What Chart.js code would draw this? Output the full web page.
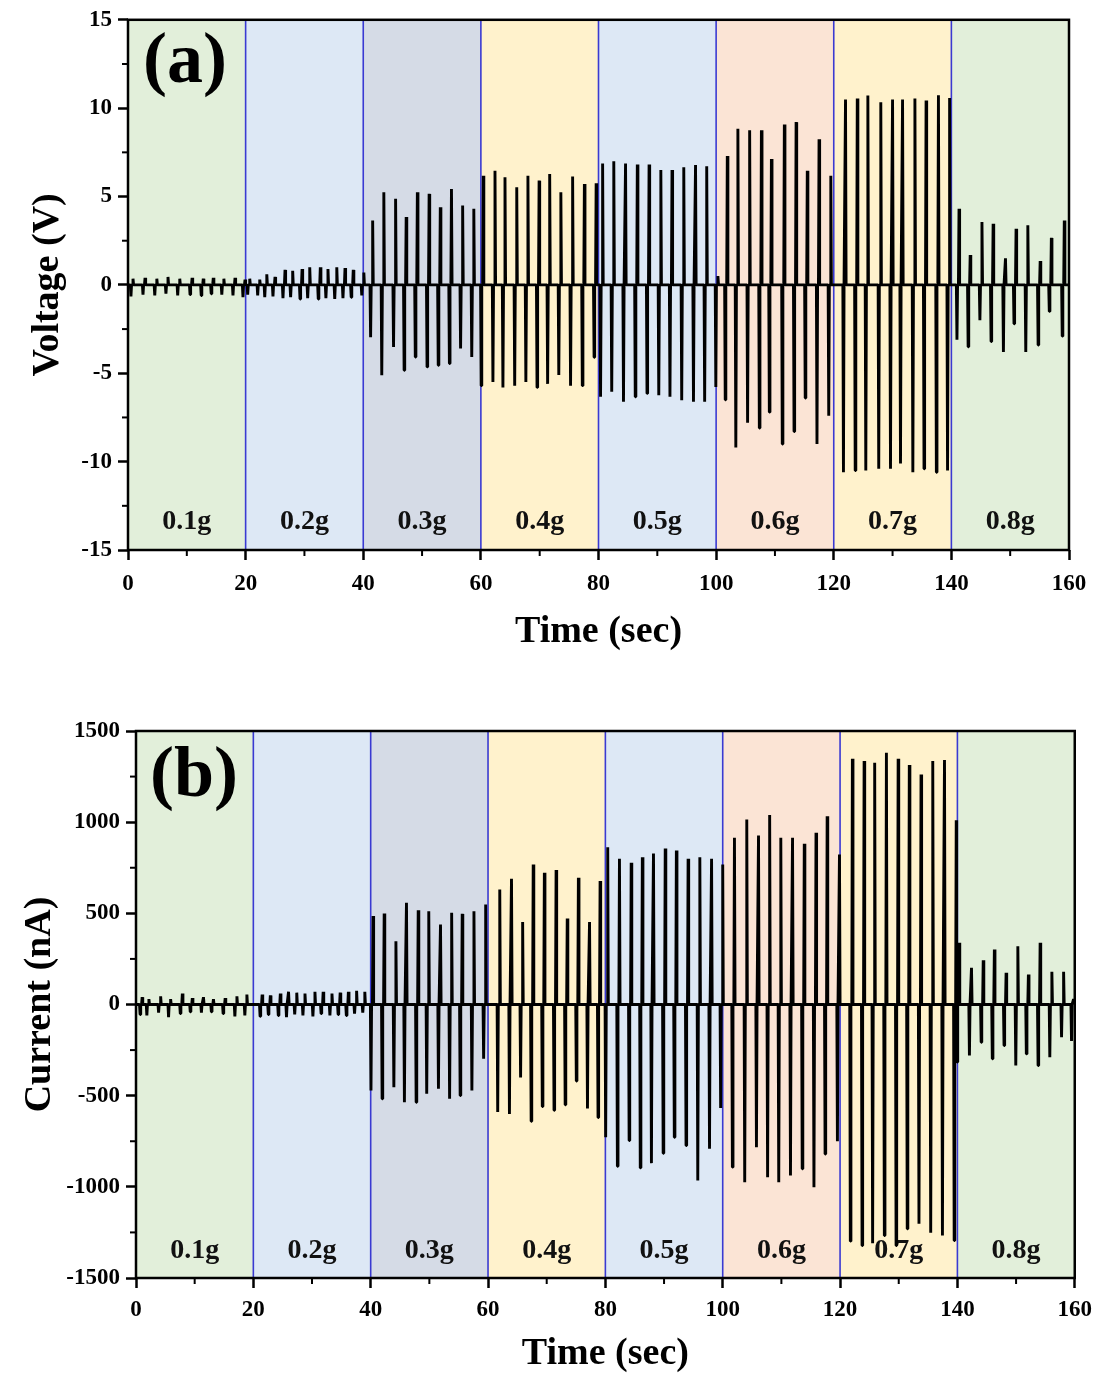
<!DOCTYPE html>
<html>
<head>
<meta charset="utf-8">
<script src="https://cdn.jsdelivr.net/npm/chart.js@4.4.1/dist/chart.umd.min.js"></script>
<style>
  html, body { margin: 0; padding: 0; background: #ffffff; }
  #wrap { position: relative; width: 1100px; height: 1373px; }
  canvas { position: absolute; left: 0; }
  #voltCanvas { top: 0; }
  #currCanvas { top: 690px; }
</style>
</head>
<body>
<div id="wrap">
  <canvas id="voltCanvas" width="1100" height="690"></canvas>
  <canvas id="currCanvas" width="1100" height="683"></canvas>
</div>
<script>
// ---- load steps: each mass is applied during one 20 s window ----
const loadLabels = ['0.1g', '0.2g', '0.3g', '0.4g', '0.5g', '0.6g', '0.7g', '0.8g'];
const bandEdges = [0, 20, 40, 60, 80, 100, 120, 140, 160];

// ---- axis ticks ----
const timeTicks = [0, 20, 40, 60, 80, 100, 120, 140, 160];
const timeMinorTicks = [10, 30, 50, 70, 90, 110, 130, 150];
const voltTicks = [-15, -10, -5, 0, 5, 10, 15];
const voltMinorTicks = [-12.5, -7.5, -2.5, 2.5, 7.5, 12.5];
const currTicks = [-1500, -1000, -500, 0, 500, 1000, 1500];
const currMinorTicks = [-1250, -750, -250, 250, 750, 1250];

// ---- open-circuit voltage pulses: time (s), positive peak (V), negative peak (V) ----
const voltTimes = [
  0.85, 2.9, 4.9, 6.8, 8.8, 10.9, 12.8, 14.5, 16.3, 18.2, 19.9,
  20.7, 22.4, 23.6, 25.0, 26.7, 28.0, 29.6, 30.9, 32.7, 34.0, 35.5, 36.9, 38.3,
  40.1, 41.6, 43.5, 45.5, 47.3, 49.2, 51.2, 53.1, 55.0, 56.9, 58.8,
  60.4, 62.4, 64.1, 66.1, 68.0, 69.9, 71.7, 73.6, 75.6, 77.6, 79.6,
  80.7, 82.6, 84.6, 86.6, 88.6, 90.6, 92.5, 94.5, 96.5, 98.4, 100.3,
  101.9, 103.7, 105.7, 107.7, 109.4, 111.6, 113.6, 115.5, 117.5, 119.5,
  122.0, 124.0, 125.8, 128.0, 130.0, 131.7, 133.8, 135.7, 137.8, 139.7,
  141.3, 143.2, 145.2, 147.1, 149.2, 151.0, 153.0, 155.1, 157.0, 159.2
];
const voltPos = [
  0.35, 0.4, 0.35, 0.45, 0.35, 0.4, 0.35, 0.4, 0.35, 0.4, 0.3,
  0.35, 0.3, 0.6, 0.45, 0.85, 0.8, 0.9, 1.0, 1.0, 0.9, 1.0, 0.95, 0.85,
  0.7, 3.65, 5.24, 4.87, 3.84, 5.24, 5.15, 4.4, 5.43, 4.49, 4.31,
  6.18, 6.46, 6.09, 5.52, 6.18, 5.9, 6.27, 5.24, 6.14, 5.71, 5.75,
  6.87, 7.0, 6.87, 6.81, 6.81, 6.5, 6.5, 6.65, 6.78, 6.72, 0.5,
  7.3, 8.84, 8.75, 8.75, 7.12, 9.08, 9.21, 6.46, 8.24, 6.18,
  10.49, 10.54, 10.71, 10.34, 10.49, 10.49, 10.54, 10.43, 10.73, 10.58,
  4.31, 1.69, 3.56, 3.46, 1.5, 3.18, 3.37, 1.35, 2.66, 3.65
];
const voltNeg = [
  -0.65, -0.55, -0.6, -0.5, -0.6, -0.55, -0.6, -0.5, -0.55, -0.6, -0.7,
  -0.55, -0.6, -0.7, -0.65, -0.75, -0.7, -0.8, -0.75, -0.8, -0.75, -0.8, -0.75, -0.7,
  -0.6, -2.96, -5.11, -3.52, -4.83, -4.08, -4.64, -4.55, -4.45, -3.6, -4.08,
  -5.7, -5.5, -5.8, -5.7, -5.5, -5.8, -5.6, -5.1, -5.7, -5.7, -4.1,
  -6.33, -6.05, -6.61, -6.33, -6.14, -6.24, -6.33, -6.52, -6.61, -6.61, -5.77,
  -6.5, -9.2, -7.8, -8.1, -7.2, -9.0, -8.3, -6.4, -9.0, -7.4,
  -10.6, -10.5, -10.5, -10.4, -10.4, -10.1, -10.6, -10.4, -10.6, -10.5,
  -3.1, -3.5, -2.0, -3.2, -3.8, -2.2, -3.8, -3.4, -1.5, -2.9
];

// ---- short-circuit current pulses: time (s), positive peak (nA), negative peak (nA) ----
const currTimes = [
  1.05, 2.2, 4.2, 5.9, 7.9, 9.6, 11.5, 13.2, 15.2, 17.2, 18.9,
  21.5, 22.9, 24.6, 26.0, 27.4, 28.8, 30.5, 31.9, 33.4, 34.8, 36.2, 37.6, 39.0,
  40.4, 42.3, 44.3, 46.1, 48.1, 49.9, 51.9, 53.8, 55.6, 57.6, 59.6,
  62.0, 64.0, 65.9, 67.7, 69.6, 71.6, 73.5, 75.4, 77.3, 79.1,
  80.4, 82.4, 84.4, 86.3, 88.2, 90.2, 92.1, 94.1, 96.1, 98.1,
  100.0, 102.0, 104.1, 106.1, 108.0, 109.9, 111.9, 113.9, 115.9, 117.8, 119.9,
  122.1, 124.1, 125.9, 127.9, 129.9, 131.8, 133.8, 135.8, 137.8, 139.8,
  140.3, 142.4, 144.4, 146.3, 148.3, 150.3, 152.1, 154.1, 156.1, 158.1, 159.8
];
const currPos = [
  40, 30, 45, 30, 60, 35, 40, 30, 35, 45, 55,
  55, 50, 60, 70, 65, 60, 70, 70, 60, 65, 70, 75, 70,
  485, 499, 347, 558, 517, 512, 439, 503, 497, 512, 549,
  631, 690, 452, 768, 722, 737, 472, 695, 452, 677,
  863, 799, 777, 808, 828, 856, 845, 799, 808, 799,
  768, 915, 1015, 927, 1039, 915, 915, 882, 942, 1033, 823,
  1348, 1335, 1326, 1381, 1348, 1313, 1262, 1335, 1341, 1011,
  338, 201, 243, 302, 174, 320, 165, 338, 179, 179, 30
];
const currNeg = [
  -55, -60, -45, -70, -50, -40, -45, -40, -50, -65, -60,
  -65, -55, -60, -70, -55, -60, -65, -50, -60, -55, -60, -50, -45,
  -472, -517, -454, -536, -536, -490, -462, -517, -499, -472, -298,
  -590, -600, -400, -640, -560, -580, -550, -420, -570, -620,
  -728, -887, -746, -896, -870, -816, -728, -773, -965, -791,
  -567, -892, -975, -783, -947, -975, -938, -901, -1002, -820, -750,
  -1298, -1322, -1310, -1267, -1322, -1230, -1203, -1252, -1267, -1294,
  -316, -280, -207, -298, -225, -335, -271, -335, -289, -180, -200
];

// ---- styling ----
const FONT = '"Liberation Serif", "Times New Roman", serif';
const bandColors = ['#e2efda', '#dde8f5', '#d5dbe6', '#fff2cc', '#dde8f5', '#fbe4d5', '#fff2cc', '#e2efda'];
const boundaryColor = '#3a3ad2';

// Each pulse: the release (negative) spike just ahead of the press (positive) spike,
// with the signal resting on zero in between.
function buildTrace(times, pos, neg) {
  const pts = [{ x: 0, y: 0 }];
  times.forEach((t, i) => {
    pts.push(
      { x: t - 0.45, y: 0 },
      { x: t - 0.35, y: neg[i] },
      { x: t - 0.25, y: 0 },
      { x: t - 0.1, y: 0 },
      { x: t, y: pos[i] },
      { x: t + 0.1, y: 0 }
    );
  });
  pts.push({ x: 160, y: 0 });
  return pts;
}

// Shaded load windows, boundaries, window labels, panel tag, frame and minor ticks
const panelPlugin = {
  id: 'panel',
  beforeDraw(chart) {
    const { ctx, chartArea: a, scales: { x } } = chart;
    ctx.save();
    for (let i = 0; i < loadLabels.length; i++) {
      const x0 = x.getPixelForValue(bandEdges[i]);
      const x1 = x.getPixelForValue(bandEdges[i + 1]);
      ctx.fillStyle = bandColors[i];
      ctx.fillRect(x0, a.top, x1 - x0, a.bottom - a.top);
    }
    ctx.restore();
  },
  beforeDatasetsDraw(chart, args, opts) {
    const { ctx, chartArea: a, scales: { x, y } } = chart;
    ctx.save();
    ctx.strokeStyle = boundaryColor;
    ctx.lineWidth = 1.6;
    for (let i = 1; i < bandEdges.length - 1; i++) {
      const px = x.getPixelForValue(bandEdges[i]);
      ctx.beginPath();
      ctx.moveTo(px, a.top);
      ctx.lineTo(px, a.bottom);
      ctx.stroke();
    }
    ctx.fillStyle = '#111';
    ctx.textAlign = 'center';
    ctx.textBaseline = 'middle';
    ctx.font = 'bold 28px ' + FONT;
    const ly = y.getPixelForValue(opts.labelValue);
    loadLabels.forEach((txt, i) => {
      ctx.fillText(txt, x.getPixelForValue((bandEdges[i] + bandEdges[i + 1]) / 2), ly);
    });
    ctx.font = 'bold 72px ' + FONT;
    ctx.fillStyle = '#000';
    ctx.fillText(opts.tag, a.left + opts.tagDx, a.top + opts.tagDy);
    ctx.restore();
  },
  afterDraw(chart, args, opts) {
    const { ctx, chartArea: a, scales: { x, y } } = chart;
    ctx.save();
    ctx.strokeStyle = '#000';
    ctx.lineWidth = 2;
    timeMinorTicks.forEach(v => {
      const px = x.getPixelForValue(v);
      ctx.beginPath(); ctx.moveTo(px, a.bottom); ctx.lineTo(px, a.bottom + 6); ctx.stroke();
    });
    opts.yMinor.forEach(v => {
      const py = y.getPixelForValue(v);
      ctx.beginPath(); ctx.moveTo(a.left, py); ctx.lineTo(a.left - 6, py); ctx.stroke();
    });
    ctx.lineWidth = 2.5;
    ctx.strokeRect(a.left, a.top, a.right - a.left, a.bottom - a.top);
    ctx.restore();
  }
};

function makeChart(canvasId, cfg) {
  const tickFont = { family: FONT, size: 23, weight: 'bold' };
  const titleFont = { family: FONT, size: 38, weight: 'bold', lineHeight: 1 };
  return new Chart(document.getElementById(canvasId), {
    type: 'line',
    data: {
      datasets: [{
        data: buildTrace(cfg.times, cfg.pos, cfg.neg),
        borderColor: '#000',
        borderWidth: 2.9,
        borderJoinStyle: 'bevel',
        pointRadius: 0,
        tension: 0,
        fill: false
      }]
    },
    options: {
      responsive: false,
      animation: false,
      events: [],
      layout: { padding: cfg.padding },
      plugins: {
        legend: { display: false },
        tooltip: { enabled: false },
        panel: cfg.panel
      },
      scales: {
        x: {
          type: 'linear',
          min: 0,
          max: 160,
          afterBuildTicks: s => { s.ticks = timeTicks.map(v => ({ value: v })); },
          afterFit: s => { s.height = cfg.xAxisHeight; },
          ticks: { font: tickFont, color: '#000', padding: cfg.xTickPad, maxRotation: 0, autoSkip: false, callback: v => String(v) },
          grid: { drawOnChartArea: false, tickLength: 10, tickWidth: 2.5, tickColor: '#000' },
          border: { display: false },
          title: { display: true, text: 'Time (sec)', color: '#000', font: titleFont, padding: { top: 0, bottom: cfg.xTitlePad } }
        },
        y: {
          type: 'linear',
          min: cfg.yTicks[0],
          max: cfg.yTicks[cfg.yTicks.length - 1],
          afterBuildTicks: s => { s.ticks = cfg.yTicks.map(v => ({ value: v })); },
          afterFit: s => { s.width = cfg.yAxisWidth; },
          ticks: { font: tickFont, color: '#000', padding: 6, autoSkip: false, callback: v => String(v) },
          grid: { drawOnChartArea: false, tickLength: 10, tickWidth: 2.5, tickColor: '#000' },
          border: { display: false },
          title: { display: true, text: cfg.yTitle, color: '#000', font: titleFont, padding: { top: cfg.yTitlePad, bottom: 0 } }
        }
      }
    },
    plugins: [panelPlugin]
  });
}

makeChart('voltCanvas', {
  times: voltTimes, pos: voltPos, neg: voltNeg,
  yTicks: voltTicks,
  yTitle: 'Voltage (V)',
  padding: { left: 0, right: 31, top: 17, bottom: 0 },
  yAxisWidth: 128,
  xAxisHeight: 140,
  xTickPad: 10,
  xTitlePad: 39,
  yTitlePad: 29,
  panel: { labelValue: -13.4, tag: '(a)', tagDx: 57, tagDy: 44, yMinor: voltMinorTicks }
});

makeChart('currCanvas', {
  times: currTimes, pos: currPos, neg: currNeg,
  yTicks: currTicks,
  yTitle: 'Current (nA)',
  padding: { left: 0, right: 24, top: 41, bottom: 0 },
  yAxisWidth: 136,
  xAxisHeight: 95,
  xTickPad: 8,
  xTitlePad: 0,
  yTitlePad: 21,
  panel: { labelValue: -1350, tag: '(b)', tagDx: 58, tagDy: 46, yMinor: currMinorTicks }
});
</script>
</body>
</html>
